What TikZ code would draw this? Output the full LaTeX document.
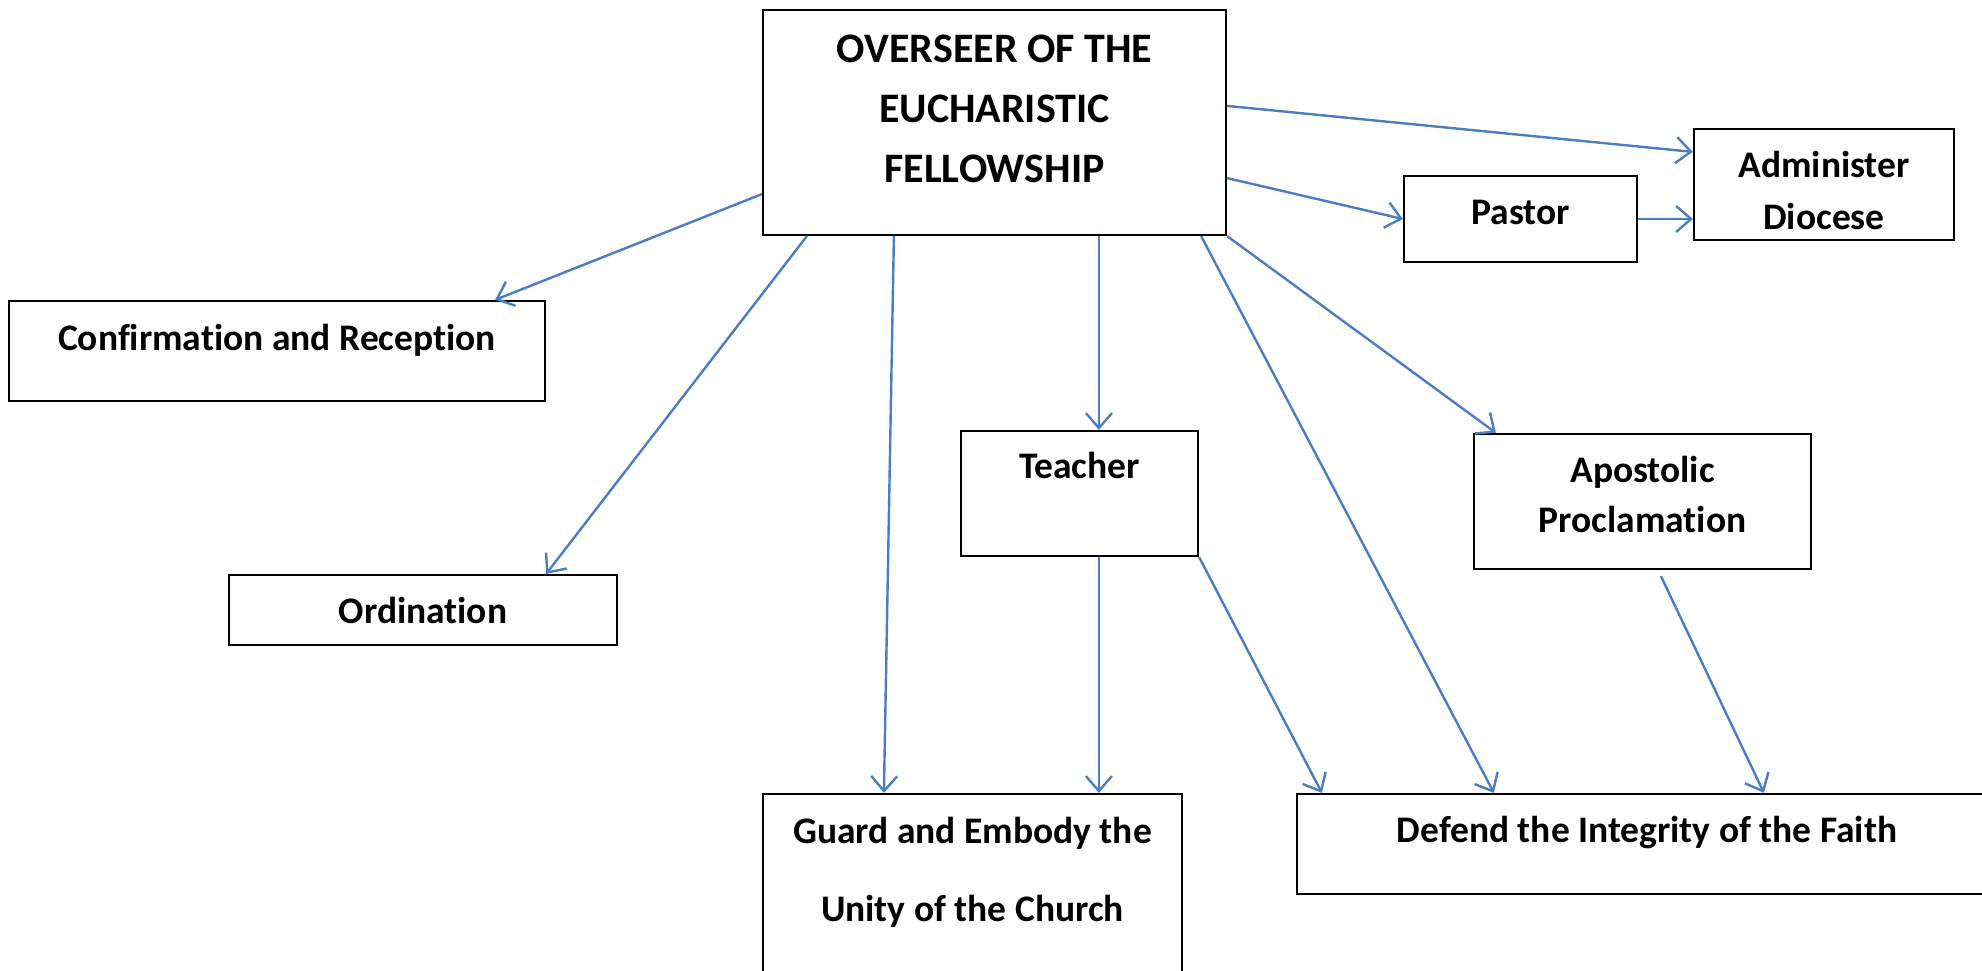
\documentclass[tikz,border=0pt]{standalone}
\usepackage{fontspec}
\setmainfont{Carlito}[Ligatures=NoCommon]
\usetikzlibrary{arrows.meta, positioning}

\begin{document}
\begin{tikzpicture}[x=1pt, y=-1pt,
        box/.style={draw, line width=2.2pt, inner sep=0pt},
        lbl/.style={font=\fontsize{37.5}{52}\selectfont\bfseries, align=center, anchor=base, inner sep=0pt},
        link/.style={draw=linkblue, line width=2.4pt, -{Straight Barb[length=15pt, width=26pt, line width=2.4pt]}}]
        % Define the line colour
        \definecolor{linkblue}{RGB}{74,126,193}

        \useasboundingbox (0,0) rectangle (1982,971);

        % Draw the boxes
        \node[box, minimum width=463pt, minimum height=225pt] (overseer) at (994.5,122.5) {};
        \node[box, minimum width=260pt, minimum height=111pt] (admin) at (1824,184.5) {};
        \node[box, minimum width=233pt, minimum height=86pt] (pastor) at (1520.5,219) {};
        \node[box, minimum width=536pt, minimum height=100pt] (confirm) at (277,351) {};
        \node[box, minimum width=388pt, minimum height=70pt] (ordin) at (423,610) {};
        \node[box, minimum width=237pt, minimum height=125pt] (teacher) at (1079.5,493.5) {};
        \node[box, minimum width=337pt, minimum height=135pt] (apost) at (1642.5,501.5) {};
        \node[box, minimum width=419pt, minimum height=212pt] (guard) at (972.5,900) {};
        \node[box, minimum width=700pt, minimum height=100pt] (defend) at (1647,844) {};

        % Put the texts at the top of each box (base = last line)
        \node[lbl, font=\fontsize{42}{60}\selectfont\bfseries] (overseer-text) at ([yshift=-174pt]overseer.north) {OVERSEER OF THE\\EUCHARISTIC\\FELLOWSHIP};
        \node[lbl] (admin-text) at ([yshift=-102pt]admin.north) {Administer\\Diocese};
        \node[lbl] (pastor-text) at ([yshift=-50pt]pastor.north) {Pastor};
        \node[lbl] (confirm-text) at ([yshift=-51pt]confirm.north) {Confirmation and Reception};
        \node[lbl] (ordin-text) at ([yshift=-50pt]ordin.north) {Ordination};
        \node[lbl] (teacher-text) at ([yshift=-49pt]teacher.north) {Teacher};
        \node[lbl, font=\fontsize{37.5}{50}\selectfont\bfseries] (apost-text) at ([yshift=-100pt]apost.north) {Apostolic\\Proclamation};
        \node[lbl, font=\fontsize{37.5}{78}\selectfont\bfseries] (guard-text) at ([yshift=-129pt]guard.north) {Guard and Embody the\\Unity of the Church};
        \node[lbl] (defend-text) at ([yshift=-50pt]defend.north) {Defend the Integrity of the Faith};

        % Draw the arrows
        \draw[link] ([yshift=42pt]overseer.south west) -- ([xshift=-51pt]confirm.north east);
        \draw[link] ([xshift=45pt]overseer.south west) -- ([xshift=-72pt]ordin.north east);
        \draw[link] ([xshift=132pt]overseer.south west) -- ([xshift=122pt]guard.north west);
        \draw[link] ([xshift=337pt]overseer.south west) -- ([xshift=139pt]teacher.north west);
        \draw[link] ([xshift=-26pt]overseer.south east) -- ([xshift=198pt]defend.north west);
        \draw[link] (overseer.south east) -- ([xshift=23pt]apost.north west);
        \draw[link] ([yshift=58pt]overseer.south east) -- (pastor.west);
        \draw[link] ([yshift=-97pt]overseer.north east) -- ([yshift=-24pt]admin.north west);
        \draw[link] (pastor.east) -- (pastor.east -| admin.west);
        \draw[link] ([xshift=139pt]teacher.south west) -- ([xshift=139pt]teacher.south west |- guard.north);
        \draw[link] (teacher.south east) -- ([xshift=26pt]defend.north west);
        \draw[link] ([xshift=188pt, yshift=-6pt]apost.south west) -- ([xshift=468pt]defend.north west);

    \end{tikzpicture}
\end{document}
